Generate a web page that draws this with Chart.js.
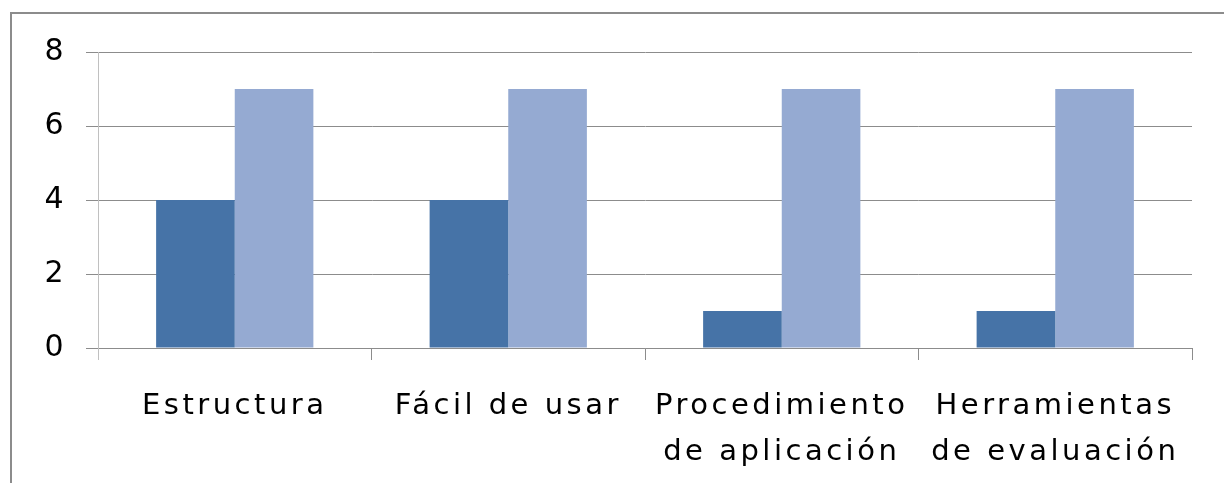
<!DOCTYPE html>
<html lang="es">
<head>
    <meta charset="UTF-8">
    <title>Evaluación</title>
    <script src="https://cdn.jsdelivr.net/npm/chart.js"></script>
    <style>
        body {
            margin: 0;
            background: #fff;
            overflow: hidden;
        }
        #frame {
            position: absolute;
            left: 10px;
            top: 12px;
            width: 1300px;
            height: 600px;
            border-left: 2px solid #8c8c8c;
            border-top: 2px solid #8c8c8c;
        }
        #chart {
            position: absolute;
            left: 0;
            top: 0;
        }
    </style>
</head>
<body>
    <div id="frame"></div>
    <canvas id="chart" width="1224" height="483"></canvas>

    <script>
        const categories = [
            'Estructura',
            'Fácil de usar',
            ['Procedimiento', 'de aplicación'],
            ['Herramientas', 'de evaluación']
        ];
        const seriesA = [4, 4, 1, 1];
        const seriesB = [7, 7, 7, 7];
        const yTicks = [0, 2, 4, 6, 8];

        const fontFamily = "'DejaVu Sans', sans-serif";

        // spaced-out lettering like the original
        const spacing = {
            id: 'spacing',
            beforeLayout(chart) { chart.ctx.letterSpacing = '3.5px'; },
            beforeDraw(chart) { chart.ctx.letterSpacing = '3.5px'; }
        };

        new Chart(document.getElementById('chart'), {
            type: 'bar',
            data: {
                labels: categories,
                datasets: [
                    { label: 'A', data: seriesA, backgroundColor: '#4673a7' },
                    { label: 'B', data: seriesB, backgroundColor: '#95aad2' }
                ]
            },
            options: {
                responsive: false,
                animation: false,
                events: [],
                datasets: {
                    bar: { categoryPercentage: 0.575, barPercentage: 1 }
                },
                layout: { padding: { top: 52, right: 32, bottom: 0, left: 0 } },
                plugins: {
                    legend: { display: false },
                    tooltip: { enabled: false }
                },
                scales: {
                    x: {
                        grid: {
                            offset: true,
                            drawOnChartArea: false,
                            drawTicks: true,
                            tickLength: 12,
                            color: ctx => ctx.index === 0 ? '#c0c0c0' : '#8c8c8c'
                        },
                        border: { color: '#8c8c8c' },
                        ticks: {
                            color: '#000',
                            padding: 24,
                            maxRotation: 0,
                            autoSkip: false,
                            font: { family: fontFamily, size: 29, lineHeight: 1.58 }
                        },
                        afterFit: s => { s.height = 135; }
                    },
                    y: {
                        min: 0,
                        max: 8,
                        afterBuildTicks: s => { s.ticks = yTicks.map(v => ({ value: v })); },
                        grid: { color: '#8c8c8c', tickLength: 12 },
                        border: { color: '#c0c0c0' },
                        ticks: {
                            color: '#000',
                            padding: 19,
                            font: { family: fontFamily, size: 30 }
                        },
                        afterFit: s => { s.width = 98; }
                    }
                }
            },
            plugins: [spacing]
        });
    </script>
</body>
</html>
